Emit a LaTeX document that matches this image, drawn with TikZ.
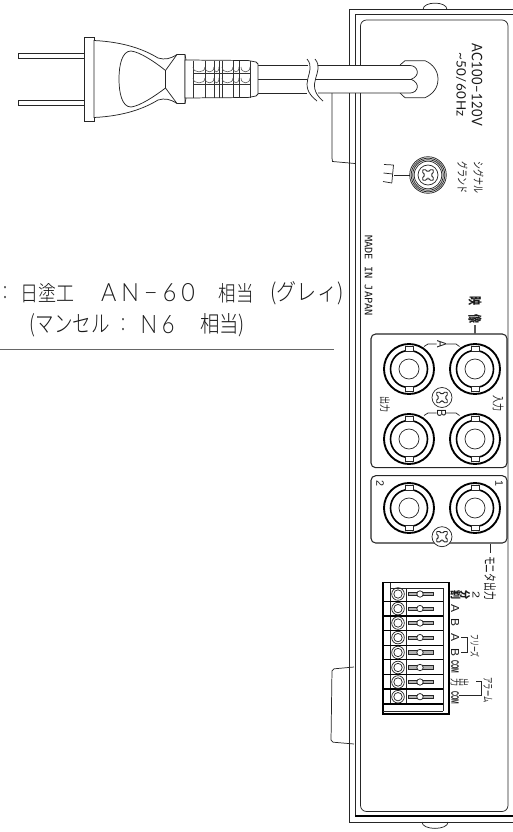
\documentclass[tikz,border=0pt]{standalone}
\usepackage{fontspec}
\usepackage{graphicx}
\setmainfont{Liberation Sans}
\newfontfamily\jp{Noto Sans CJK JP}
\newfontfamily\jpl{Noto Sans CJK JP Light}
\newfontfamily\thinf{Lato Light}
\newfontfamily\regf{Lato}
\newfontfamily\monof{DejaVu Sans Mono}
\newdimen\pxu \pxu=0.75pt
\newcommand\fitbox[3]{\resizebox{#1\pxu}{#2\pxu}{#3}}
\tikzset{
  ln/.style={line width=0.55pt,draw=black!85},
  thk/.style={line width=1.1pt,draw=black},
  txt/.style={inner sep=0pt,outer sep=0pt,text=black!90},
  vtxt/.style={txt,rotate=-90},
  screwhead/.pic={
    \draw[ln,fill=white] (0,0) circle (10);
    \draw[line width=0.7pt,draw=black!85,rounded corners=1.2pt,rotate=45] (-2,-7) -- (2,-7) -- (2,-2) -- (7,-2) -- (7,2) -- (2,2) -- (2,7) -- (-2,7) -- (-2,2) -- (-7,2) -- (-7,-2) -- (-2,-2) -- cycle;
    \fill[black!60] (0,3.4) circle (1);
  },
  bnc/.pic={
    \draw[thk,line width=1.4pt] (0,0) circle (25);
    \draw[thk,line width=1.2pt] (0,0) circle (18.5);
    \draw[ln] (0,0) circle (10);
    \draw[ln,fill=white] (-4,-22.5) rectangle (4,-17.5);
    \draw[ln,fill=white] (-4,17.5) rectangle (4,22.5);
  },
  termcell/.pic={
    \draw[ln] (0,0) circle (6.3);
    \draw[ln] (0,0) circle (4.2);
    \draw[ln,fill=black!30] (10,-1.7) rectangle (35,1.7);
    \draw[ln,fill=white] (22,0) circle (3.2);
  }
}
\begin{document}
\begin{tikzpicture}[x=0.75pt,y=-0.75pt]
\useasboundingbox (0,0) rectangle (513,832);
% panel
\draw[ln] (423,9.5) .. controls (423,1) and (447,1) .. (447,9.5);
\draw[ln] (422,822) .. controls (422,830.5) and (448,830.5) .. (448,822);
\draw[ln] (513,9.5) -- (349.5,9.5) -- (349.5,822) -- (513,822);
\draw[ln] (513,14) -- (355,14) -- (355,816);
\draw[thk,line width=0.8pt] (355,816) -- (513,816);
\draw[ln,rounded corners=4.5pt] (360.5,20) rectangle (508,811.5);
% side tabs
\draw[ln] (332,93) -- (332,158) -- (332.5,161.5) -- (355,163.5);
\draw[ln,rounded corners=1.5pt] (354,667) -- (332,669) -- (331,742) -- (354,744);
% grommet
\draw[ln,fill=white] (400,65) -- (405,60.7) -- (425,60.7) .. controls (433,64) and (438,71) .. (438,79) .. controls (438,88) and (433,94) .. (425,97.7) -- (405,97.7) -- (400,93);
% cable
\fill[white] (258,65.5) rectangle (410,93);
\draw[ln] (258,65.5) -- (308,65.5) (258,79.3) -- (310,79.3) (258,93) -- (307,93);
\draw[ln] (316,65.5) -- (410,65.5) .. controls (418,65.5) and (421,76) .. (411,79.3) .. controls (421,83) and (418,93) .. (410,93) -- (318,93);
\draw[ln] (314,79.3) -- (411,79.3);
\fill[white] (307,59) .. controls (318,72) and (295,84) .. (317,101) -- (323,101) .. controls (303,84) and (326,72) .. (315,59) -- cycle;
\draw[ln] (307,59) .. controls (318,72) and (295,84) .. (317,101);
\draw[ln] (315,59) .. controls (326,72) and (303,84) .. (323,101);
% plug
\draw[ln,fill=white] (18.5,53) rectangle (84.5,58.5);
\draw[ln,fill=white] (18.5,100) rectangle (84.5,105.5);
\draw[ln,fill=white] (84.5,37.5) rectangle (94,121);
\draw[ln,fill=white] (94,40.5) .. controls (125,42) and (145,50) .. (158,58) .. controls (165,60) and (170,59) .. (177,54.5) -- (185,54.5) -- (186,60) -- (186,98) -- (185,103.5) -- (177,103.5) .. controls (170,99) and (165,98) .. (158,100) .. controls (145,108) and (125,116) .. (94,117.5) -- cycle;
\draw[ln] (165.5,70.5) .. controls (155,62) and (140,52) .. (131,51) .. controls (122,51) and (119,65) .. (119,79) .. controls (119,93) and (122,107) .. (131,107) .. controls (140,106) and (155,96) .. (165.5,88) -- cycle;
\draw[ln] (165.5,70.5) -- (177,54.5) (165.5,88) -- (177,103.5) (185,54.5) -- (185,103.5);
\draw[ln,fill=white] (185,60) -- (248,60.5) -- (256,62) -- (258,64) -- (258,94) -- (256,96) -- (248,97.5) -- (185,98) -- cycle;
\foreach \vx in {193,205,214,219,222,233,239,250}
  \draw[line width=0.45pt,draw=black!80] (\vx,60.5) -- (\vx,97.5);
\draw[line width=0.45pt,draw=black!80] (193,73) -- (250,73) (193,84) -- (250,84);
\foreach \ca/\cb in {193/205,205/214,222/233,241/250,214/219,233/239}{
  \draw[line width=0.4pt,draw=black!70] (\ca,67) .. controls (\ca,73.5) and (\cb,73.5) .. (\cb,67);
  \draw[line width=0.4pt,draw=black!70] (\ca,78) .. controls (\ca,84.5) and (\cb,84.5) .. (\cb,78);
}
% power text
\node[vtxt] (ac) at (477,85) {\fitbox{83}{10.5}{\regf\addfontfeature{LetterSpace=4}AC100−120V}};
\node[vtxt] (hz) at (461,84.5) {\fitbox{65}{9.5}{\regf\addfontfeature{LetterSpace=4}\symbol{126}50/60Hz}};
% ground screw
\draw[ln] (428,175) circle (18.3) (428,175) circle (16.8) (428,175) circle (15.3) (428,175) circle (13.8);
\pic at (428,175) {screwhead};
\draw[ln] (394,175) -- (410,175);
\draw[ln] (393.5,165) -- (391.8,183);
\draw[ln] (393.5,165) -- (384,164.5) (392.7,174) -- (383.5,173) (391.8,183) -- (383,181.5);
\node[vtxt] (sig1) at (478.5,177.5) {\fitbox{32}{9.5}{\jp シグナル}};
\node[vtxt] (sig2) at (462.5,177.5) {\fitbox{32}{9.5}{\jp グランド}};
\node[vtxt] (made) at (368.5,275.5) {\fitbox{81}{7.5}{\monof MADE IN JAPAN}};
% left text
\node[txt] (t1) at (5,293) {\fitbox{4}{12}{\thinf :}};
\node[txt] (t2) at (48,293) {\fitbox{54}{18}{\jpl 日塗工}};
\node[txt] (t3) at (148,292.5) {\fitbox{94}{18}{\thinf\addfontfeature{LetterSpace=22}AN−60}};
\node[txt] (t4) at (236,293) {\fitbox{35}{18}{\jpl 相当}};
\node[txt] (t5) at (307,293) {\fitbox{73}{19}{\jpl (グレィ)}};
\node[txt] (t6) at (70,325) {\fitbox{80}{19}{\jpl (マンセル}};
\node[txt] (t7) at (123,325) {\fitbox{4}{12}{\thinf :}};
\node[txt] (t8) at (157.5,325) {\fitbox{34}{18}{\thinf\addfontfeature{LetterSpace=22}N6}};
\node[txt] (t9) at (222.5,325) {\fitbox{45}{19}{\jpl 相当)}};
\draw[line width=0.8pt,draw=black!60] (0,349.3) -- (334,349.3);
% video panel
\draw[ln,line width=0.8pt,rounded corners=3.5pt] (371,334) rectangle (507,467.7);
\foreach \bx/\by in {409/369,475/369,409/439,475/439} \pic at (\bx,\by) {bnc};
\pic at (442,397.5) {screwhead};
\draw[ln] (424,346.5) -- (428,344) -- (436.5,344) (446,344) -- (456,344) -- (459.5,346.5);
\draw[ln] (424,415.5) -- (428,413) -- (436.5,413) (446,413) -- (456,413) -- (459.5,415.5);
\node[vtxt] (la) at (441.5,344) {\fitbox{7.5}{9}{A}};
\node[vtxt] (lb) at (441.5,413) {\fitbox{7.5}{9}{B}};
\draw[line width=0.9pt,draw=black!65] (475,325) -- (475,334);
\node[vtxt] (ei) at (475,301) {\fitbox{9}{12}{\jp\bfseries 映}};
\node[vtxt] (zo) at (475,318.5) {\fitbox{9}{12}{\jp\bfseries 像}};
\node[vtxt] (ko) at (385,404) {\fitbox{16}{9}{\jp 出力}};
\node[vtxt] (ir) at (498,403.5) {\fitbox{16}{10}{\jp 入力}};
% monitor panel
\draw[ln,line width=0.8pt,rounded corners=3.5pt] (371,475.7) rectangle (507,543);
\foreach \bx in {409,475} \pic at (\bx,508) {bnc};
\pic at (442,536.7) {screwhead};
\node[vtxt] (n2) at (380,483.5) {\fitbox{6}{7.5}{2}};
\node[vtxt] (n1) at (499,483.5) {\fitbox{6}{7.5}{1}};
\draw[ln] (490,544) -- (490,553);
\node[vtxt] (mon) at (490,578) {\fitbox{44}{11}{\jp モニタ出力}};
% terminal block
\draw[line width=0.9pt] (383,582.7) -- (449,582.7) -- (449,714) -- (383,714) -- cycle;
\draw[ln] (390,582.7) -- (390,704) (406,588) -- (406,704) (390,588) -- (443,588) -- (443,711) (383,711) -- (443,711);
\foreach \hy in {601.3,616,630.7,645.3,659.7,674.3,689,704}
  \draw[thk,line width=1pt] (383,\hy) -- (443,\hy);
\foreach \cy in {594,608.6,623,637.6,652.5,667.5,682,696.7} \pic at (398,\cy) {termcell};
\node[vtxt] (d1) at (476,595) {\fitbox{7}{7}{2}};
\node[vtxt] (d2) at (465,595) {\fitbox{9}{9}{\jp\bfseries 分}};
\node[vtxt] (d3) at (455.5,595) {\fitbox{9}{9}{\jp\bfseries 割}};
\node[vtxt] (a1) at (455,608) {\fitbox{8}{8}{A}};
\node[vtxt] (b1) at (455,622.5) {\fitbox{8}{8}{B}};
\node[vtxt] (a2) at (455,637.7) {\fitbox{8}{8}{A}};
\node[vtxt] (b2) at (455,652.5) {\fitbox{8}{8}{B}};
\node[vtxt] (c1) at (455,667) {\fitbox{13}{7.5}{\bfseries COM}};
\node[vtxt] (ka) at (455,682.7) {\fitbox{8}{8}{\jp 力}};
\node[vtxt] (de) at (464,682) {\fitbox{8}{9}{\jp 出}};
\node[vtxt] (c2) at (455,698) {\fitbox{13}{7.5}{\bfseries COM}};
\draw[ln] (461,637.7) -- (467.7,637.7) -- (467.7,652.7) -- (461,652.7);
\node[vtxt] (fz) at (475,646) {\fitbox{23}{8.5}{\jp フリーズ}};
\draw[ln] (476,681) -- (481,681) -- (481,695) -- (459,695);
\node[vtxt] (al) at (488,690) {\fitbox{25}{8.5}{\jp アラーム}};
\end{tikzpicture}
\end{document}
